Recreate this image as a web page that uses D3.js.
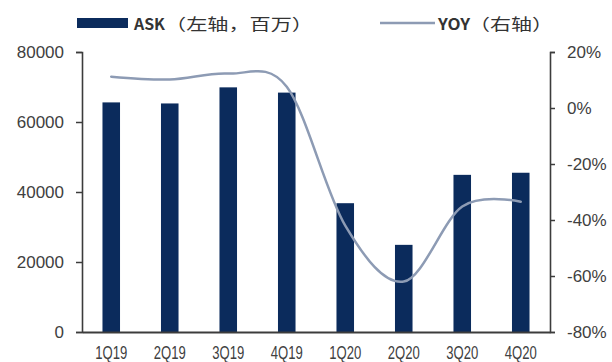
<!DOCTYPE html>
<html>
<head>
<meta charset="utf-8">
<script src="https://cdn.jsdelivr.net/npm/d3@7"></script>
<style>
  html, body { margin: 0; padding: 0; background: #fff; }
  svg { display: block; }
</style>
</head>
<body>
<svg id="chart" width="612" height="362"></svg>
<script>
// Quarterly available seat kilometres (millions) and year-on-year change (%)
const quarters = ["1Q19", "2Q19", "3Q19", "4Q19", "1Q20", "2Q20", "3Q20", "4Q20"];
const askValues = [65600, 65300, 69900, 68400, 36800, 24900, 44900, 45500];
const yoyValues = [11.2, 10.2, 12.3, 7.6, -42, -62, -35.2, -33.5];
const leftTicks = [0, 20000, 40000, 60000, 80000];
const rightTicks = [-80, -60, -40, -20, 0, 20];
const legendLabels = ["ASK", "（左轴，百万）", "YOY", "（右轴）"];

const barColor = "#0b2b5c";
const lineColor = "#8d9bb4";
const axisColor = "#3c3c3c";
const textColor = "#404040";

const svg = d3.select("#chart");
const plot = { left: 82, right: 550, top: 52, bottom: 332 };

const x = d3.scaleBand()
  .domain(quarters)
  .range([plot.left, plot.right])
  .paddingInner(0.7)
  .paddingOuter(0.35);

const yLeft = d3.scaleLinear().domain([0, 80000]).range([plot.bottom, plot.top]);
const yRight = d3.scaleLinear().domain([-80, 20]).range([plot.bottom, plot.top]);

// Bars
svg.append("g")
  .selectAll("rect")
  .data(askValues)
  .join("rect")
  .attr("x", (d, i) => x(quarters[i]))
  .attr("width", x.bandwidth())
  .attr("y", d => yLeft(d))
  .attr("height", d => yLeft(0) - yLeft(d))
  .attr("fill", barColor);

// Smoothed YOY line
const line = d3.line()
  .x((d, i) => x(quarters[i]) + x.bandwidth() / 2)
  .y(d => yRight(d))
  .curve(d3.curveCardinal.tension(0));

svg.append("path")
  .datum(yoyValues)
  .attr("d", line)
  .attr("fill", "none")
  .attr("stroke", lineColor)
  .attr("stroke-width", 2.5)
  .attr("stroke-linecap", "round");

// Left axis
const leftAxis = svg.append("g")
  .attr("transform", `translate(${plot.left},0)`)
  .call(d3.axisLeft(yLeft).tickValues(leftTicks).tickSize(6).tickSizeOuter(6).tickPadding(12)
    .tickFormat(d3.format("d")));
leftAxis.select(".domain").attr("stroke", axisColor).attr("stroke-width", 1.6);
leftAxis.selectAll(".tick line").attr("stroke", axisColor).attr("stroke-width", 1.5);
leftAxis.selectAll("text")
  .attr("fill", textColor)
  .style("font-family", "'Liberation Sans', Arial, sans-serif")
  .style("font-size", "17px");

// Right axis
const rightAxis = svg.append("g")
  .attr("transform", `translate(${plot.right},0)`)
  .call(d3.axisRight(yRight).tickValues(rightTicks).tickSize(5).tickSizeOuter(5).tickPadding(12)
    .tickFormat(d => (d < 0 ? "-" + Math.abs(d) : d) + "%"));
rightAxis.select(".domain").attr("stroke", axisColor).attr("stroke-width", 1.6);
rightAxis.selectAll(".tick line").attr("stroke", axisColor).attr("stroke-width", 1.5);
rightAxis.selectAll("text")
  .attr("fill", textColor)
  .style("font-family", "'Liberation Sans', Arial, sans-serif")
  .style("font-size", "17px");

// Bottom axis
const bottomAxis = svg.append("g")
  .attr("transform", `translate(0,${plot.bottom})`)
  .call(d3.axisBottom(x).tickSize(0).tickSizeOuter(0).tickPadding(16));
bottomAxis.select(".domain").attr("stroke", axisColor).attr("stroke-width", 2);
bottomAxis.selectAll("text")
  .attr("fill", textColor)
  .attr("dy", "0.6em")
  .attr("textLength", 32)
  .attr("lengthAdjust", "spacingAndGlyphs")
  .style("font-family", "'Liberation Sans', Arial, sans-serif")
  .style("font-size", "18px");

// Legend
const legend = svg.append("g")
  .style("font-family", "'Noto Sans CJK SC', sans-serif")
  .style("font-size", "16px")
  .attr("fill", "#333");

legend.append("rect")
  .attr("x", 77).attr("y", 18).attr("width", 51).attr("height", 10)
  .attr("fill", barColor);
legend.append("text")
  .attr("x", 134).attr("y", 30)
  .style("font-weight", "bold")
  .attr("textLength", 31)
  .attr("lengthAdjust", "spacingAndGlyphs")
  .text(legendLabels[0]);
legend.append("text")
  .attr("x", 165).attr("y", 30)
  .attr("textLength", 148)
  .attr("lengthAdjust", "spacingAndGlyphs")
  .text(legendLabels[1]);

legend.append("line")
  .attr("x1", 380).attr("x2", 435).attr("y1", 23).attr("y2", 23)
  .attr("stroke", lineColor).attr("stroke-width", 2.5);
legend.append("text")
  .attr("x", 438).attr("y", 30)
  .style("font-weight", "bold")
  .attr("textLength", 32)
  .attr("lengthAdjust", "spacingAndGlyphs")
  .text(legendLabels[2]);
legend.append("text")
  .attr("x", 469).attr("y", 30)
  .attr("textLength", 84)
  .attr("lengthAdjust", "spacingAndGlyphs")
  .text(legendLabels[3]);
</script>
</body>
</html>
